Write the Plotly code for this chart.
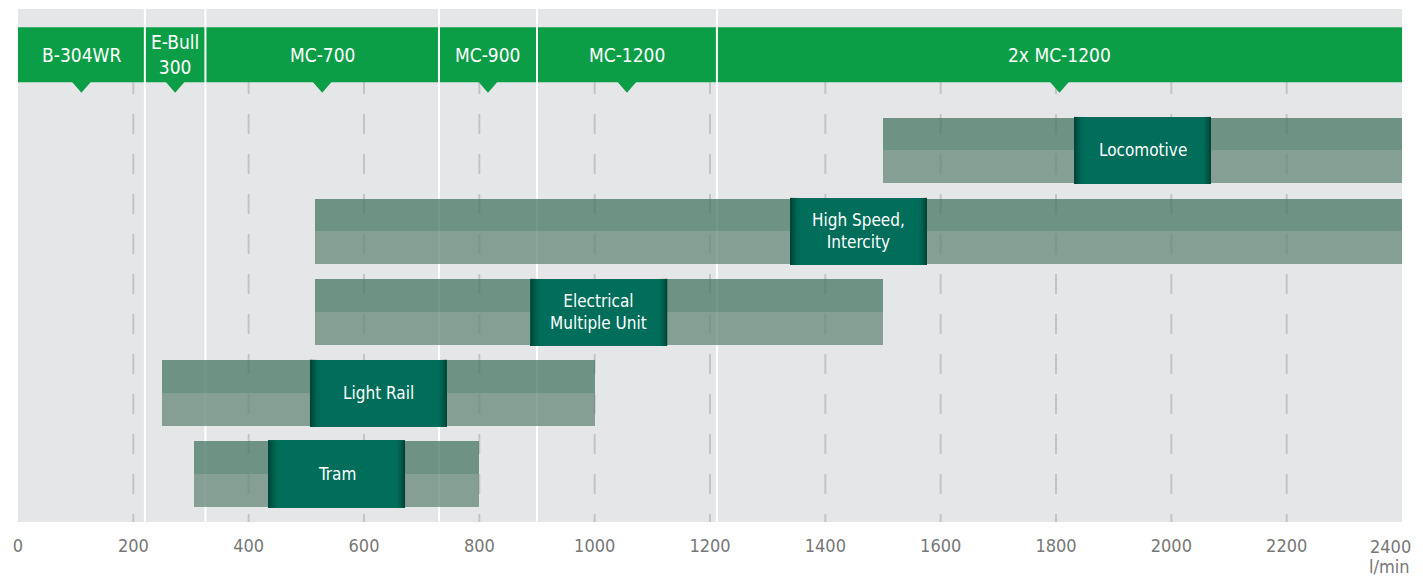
import plotly.graph_objects as go

# ---------------- data ----------------
applications = ["Tram", "Light Rail", "Electrical<br>Multiple Unit", "High Speed,<br>Intercity", "Locomotive"]
flow_start = [305, 250, 515, 515, 1500]     # l/min
flow_end = [800, 1000, 1500, 2400, 2400]    # l/min

models = ["B-304WR", "E-Bull<br>300", "MC-700", "MC-900", "MC-1200", "2x MC-1200"]
model_bounds = [0, 220, 325, 730, 900, 1212, 2400]   # l/min, segment limits

tick_vals = [0, 200, 400, 600, 800, 1000, 1200, 1400, 1600, 1800, 2000, 2200, 2400]
tick_text = [str(v) for v in tick_vals]
grid_vals = tick_vals[1:-1]
unit_label = "l/min"

# ---------------- style ----------------
# the page body adds an 8px margin, so the figure is shrunk to avoid any scrolling
W, H = 1415, 569
ML, MR, MT, MB = 10, 21, 1, 55
XMAX = 2400
PLOT_W = W - ML - MR
UPX = XMAX / PLOT_W            # data units per pixel
FONT = "DejaVu Sans Condensed, Liberation Sans Narrow, Roboto, sans-serif"
BG = "#e5e6e8"
GREEN = "#0b9e47"
BOX = "#006e5a"
TOP_C = "rgba(69,118,98,0.75)"
BOT_C = "rgba(100,135,121,0.75)"
BOX_W = 137 * UPX
rows = list(range(len(applications)))

fig = go.Figure()

# bars: upper (darker) and lower (lighter) halves
spans = [e - s for s, e in zip(flow_start, flow_end)]
fig.add_trace(go.Bar(orientation="h", y=[r + 0.2025 for r in rows], x=spans, base=flow_start,
                     width=0.405, marker=dict(color=TOP_C, line=dict(width=0)),
                     hoverinfo="skip", showlegend=False))
fig.add_trace(go.Bar(orientation="h", y=[r - 0.2025 for r in rows], x=spans, base=flow_start,
                     width=0.405, marker=dict(color=BOT_C, line=dict(width=0)),
                     hoverinfo="skip", showlegend=False))

# label boxes, centred on each bar
centers = [(s + e) / 2 for s, e in zip(flow_start, flow_end)]
fig.add_trace(go.Bar(orientation="h", y=rows, x=[BOX_W] * len(rows),
                     base=[c - BOX_W / 2 for c in centers], width=0.83,
                     marker=dict(color=BOX, line=dict(width=0)),
                     hoverinfo="skip", showlegend=False))

shapes = []
# dashed grid lines
for g in grid_vals:
    shapes.append(dict(type="line", xref="x", yref="paper", x0=g, x1=g, y0=0.9513, y1=0,
                       line=dict(color="#c3c4c6", width=2, dash="20px,20px"), layer="below"))
# green model band
shapes.append(dict(type="rect", xref="x", yref="paper", x0=0, x1=XMAX, y0=0.8571, y1=0.9643,
                   fillcolor=GREEN, line=dict(width=0), layer="below"))
# triangles under each model label
tri_half = 10 * UPX
for a, b in zip(model_bounds[:-1], model_bounds[1:]):
    c = (a + b) / 2
    shapes.append(dict(type="path", xref="x", yref="paper",
                       path=f"M {c - tri_half},0.8590 L {c + tri_half},0.8590 L {c},0.8368 Z",
                       fillcolor=GREEN, line=dict(width=0), layer="below"))
# white separators between models
for bnd in model_bounds[1:-1]:
    shapes.append(dict(type="line", xref="x", yref="paper", x0=bnd, x1=bnd, y0=0, y1=1,
                       line=dict(color="white", width=2), layer="below"))
# dark shading at the edges of the label boxes
left_alphas = [0.45, 0.32, 0.2, 0.1, 0.04]
right_alphas = [0.45, 0.3, 0.16, 0.06]
for r, c in zip(rows, centers):
    x_left = c - BOX_W / 2
    x_right = c + BOX_W / 2
    for i, al in enumerate(left_alphas):
        shapes.append(dict(type="rect", xref="x", yref="y",
                           x0=x_left + 2 * i * UPX, x1=x_left + 2 * (i + 1) * UPX,
                           y0=r - 0.415, y1=r + 0.415,
                           fillcolor=f"rgba(0,25,18,{al})", line=dict(width=0), layer="above"))
    for i, al in enumerate(right_alphas):
        shapes.append(dict(type="rect", xref="x", yref="y",
                           x0=x_right - 2 * (i + 1) * UPX, x1=x_right - 2 * i * UPX,
                           y0=r - 0.415, y1=r + 0.415,
                           fillcolor=f"rgba(0,25,18,{al})", line=dict(width=0), layer="above"))

annotations = []
for r, c, name in zip(rows, centers, applications):
    annotations.append(dict(x=c, y=r, xref="x", yref="y", text=name, showarrow=False,
                            xanchor="center", yanchor="middle",
                            font=dict(family=FONT, size=17, color="white"), align="center"))
for a, b, name in zip(model_bounds[:-1], model_bounds[1:], models):
    annotations.append(dict(x=(a + b) / 2, y=0.9107, xref="x", yref="paper", text=name,
                            showarrow=False, align="center", xanchor="center", yanchor="middle",
                            font=dict(family=FONT, size=19, color="white")))
# last tick label drawn right-aligned so it stays inside the page
annotations.append(dict(x=1, y=0, xref="paper", yref="paper", text=tick_text[-1], showarrow=False,
                        xanchor="right", yanchor="middle", xshift=11, yshift=-24,
                        font=dict(family=FONT, size=18, color="#777777")))
annotations.append(dict(x=1, y=0, xref="paper", yref="paper", text=unit_label, showarrow=False,
                        xanchor="right", yanchor="middle", xshift=10, yshift=-44,
                        font=dict(family=FONT, size=18, color="#777777")))

axis_text = tick_text[:-1] + [""]

fig.update_layout(
    width=W, height=H,
    margin=dict(l=ML, r=MR, t=MT, b=MB),
    paper_bgcolor="white", plot_bgcolor=BG,
    barmode="overlay", bargap=0,
    shapes=shapes, annotations=annotations,
    xaxis=dict(range=[0, XMAX], tickmode="array", tickvals=tick_vals, ticktext=axis_text,
               showgrid=False, zeroline=False, showline=False,
               ticks="outside", ticklen=7, tickcolor="rgba(0,0,0,0)",
               tickfont=dict(family=FONT, size=18, color="#777777"), fixedrange=True),
    yaxis=dict(range=[-0.593, 5.748], showgrid=False, zeroline=False, showticklabels=False,
               showline=False, fixedrange=True),
    showlegend=False,
)

fig.write_html("out.html")
